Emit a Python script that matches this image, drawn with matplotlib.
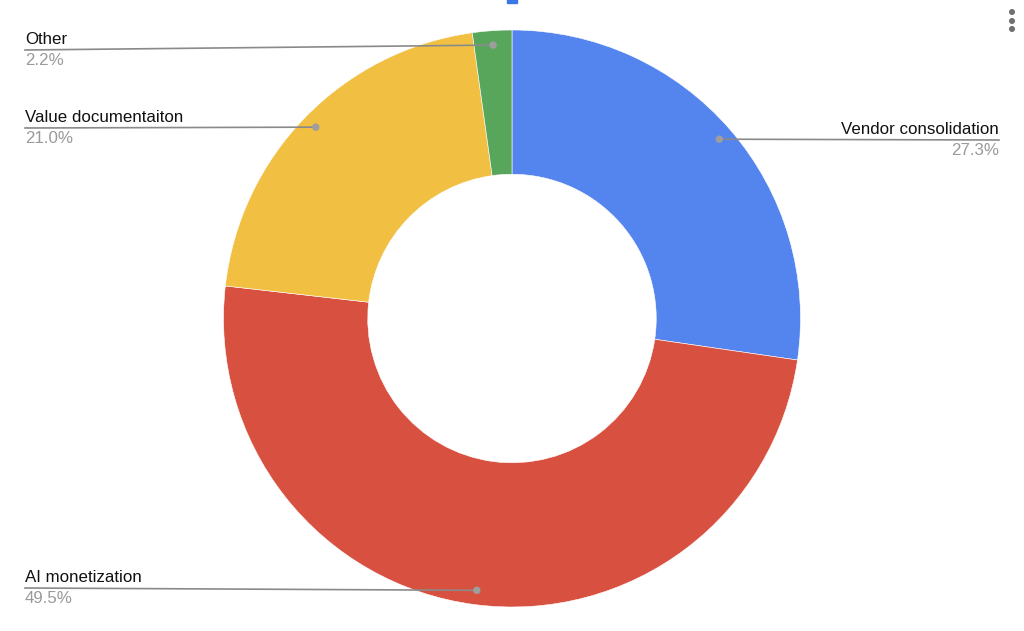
import numpy as np
import matplotlib.pyplot as plt
from matplotlib.patches import Rectangle, Circle

labels = ["Vendor consolidation", "AI monetization", "Value documentaiton", "Other"]
shares = [27.3, 49.5, 21.0, 2.2]
colors = ["#5484ed", "#d85140", "#f1bf42", "#58a65c"]

# where each label sits (pixel coords from top-left) and how it's aligned
label_x = [999, 25, 25, 25]
label_line_y = [140, 588, 128, 50]
label_ha = ["right", "left", "left", "left"]

W, H = 1024, 631
plt.rcParams["font.family"] = ["Liberation Sans", "DejaVu Sans"]

fig = plt.figure(figsize=(W / 100, H / 100), dpi=100)
ax = fig.add_axes([0, 0, 1, 1])

cx, cy, R = 512, H - 318.5, 288.5

wedges, _ = ax.pie(shares, colors=colors, startangle=90, counterclock=False,
                   center=(cx, cy), radius=R,
                   wedgeprops=dict(width=R * 0.5, edgecolor="white", linewidth=0.4),
                   frame=True)
ax.set_xlim(0, W)
ax.set_ylim(0, H)
ax.set_aspect("equal")
ax.axis("off")

for w, lab, val, lx, ly, ha in zip(wedges, labels, shares, label_x, label_line_y, label_ha):
    ang = np.deg2rad((w.theta1 + w.theta2) / 2)
    dx = cx + R * 0.95 * np.cos(ang)
    dy = cy + R * 0.95 * np.sin(ang)
    yl = H - ly
    ax.plot([lx, dx], [yl, dy], color="#8a8a8a", lw=1.2, zorder=3)
    ax.add_patch(Circle((dx, dy), 3, color="#9e9e9e", zorder=4))
    ax.text(lx, yl + 3, lab, ha=ha, va="bottom", fontsize=12.2, color="#111111")
    ax.text(lx, yl - 3, f"{val:.1f}%", ha=ha, va="top", fontsize=12.2, color="#9a9a9a")

# cut-off legend swatch at top
ax.add_patch(Rectangle((507, H - 3), 10, 4, color="#3b78e7", clip_on=False))
# menu dots
for yy in [12, 21, 29]:
    ax.add_patch(Circle((1012, H - yy), 2.3, color="#707070"))

fig.savefig("out.png", dpi=100)
